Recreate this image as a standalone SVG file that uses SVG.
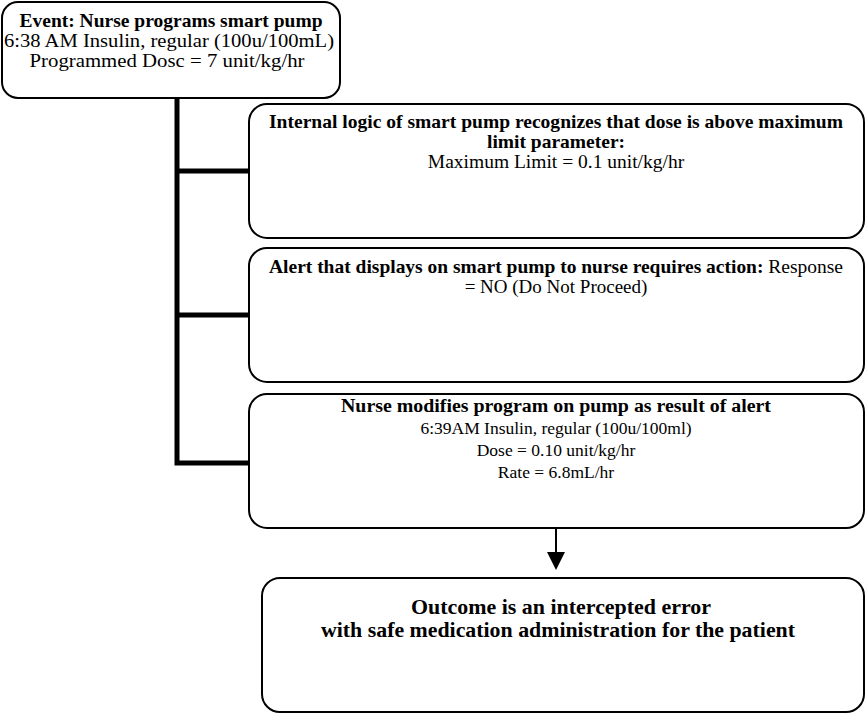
<svg xmlns="http://www.w3.org/2000/svg" width="867" height="714" viewBox="0 0 867 714">
<defs>
<style>
.box{fill:#fff;stroke:#000;stroke-width:2}
.t{font-family:"Liberation Serif","Times New Roman",serif;fill:#000;text-anchor:middle}
.b{font-weight:bold}
.conn{stroke:#000;stroke-width:5;fill:none}
</style>
</defs>
<rect width="867" height="714" fill="#fff"/>
<g id="connectors">
<path class="conn" d="M177,98 V463 H249"/>
<path class="conn" d="M177,171 H249"/>
<path class="conn" d="M177,315 H249"/>
<path d="M556,528 V553" stroke="#000" stroke-width="2"/>
<path d="M547,552 L565,552 L556,570 Z" fill="#000"/>
</g>
<g id="node-event">
<rect class="box" x="2" y="2" width="338" height="96" rx="16"/>
<text class="t b" x="171" y="27" font-size="19" textLength="303" lengthAdjust="spacingAndGlyphs">Event: Nurse programs smart pump</text>
<text class="t" x="169" y="47" font-size="19" textLength="330" lengthAdjust="spacingAndGlyphs">6:38 AM Insulin, regular (100u/100mL)</text>
<text class="t" x="167" y="67" font-size="19" textLength="275" lengthAdjust="spacingAndGlyphs">Programmed Dosc = 7 unit/kg/hr</text>
</g>
<g id="node-logic">
<rect class="box" x="249" y="104" width="615" height="134" rx="18"/>
<text class="t b" x="556" y="128" font-size="19.5" textLength="574" lengthAdjust="spacingAndGlyphs">Internal logic of smart pump recognizes that dose is above maximum</text>
<text class="t b" x="556" y="148" font-size="19.5">limit parameter:</text>
<text class="t" x="556" y="168" font-size="19.5">Maximum Limit = 0.1 unit/kg/hr</text>
</g>
<g id="node-alert">
<rect class="box" x="249" y="248" width="615" height="134" rx="18"/>
<text class="t" x="556" y="273" font-size="19.5" textLength="574" lengthAdjust="spacingAndGlyphs"><tspan class="b">Alert that displays on smart pump to nurse requires action:</tspan> Response</text>
<text class="t" x="556" y="293" font-size="19">= NO (Do Not Proceed)</text>
</g>
<g id="node-modify">
<rect class="box" x="249" y="394" width="615" height="134" rx="18"/>
<text class="t b" x="556" y="412" font-size="19.8" textLength="430" lengthAdjust="spacingAndGlyphs">Nurse modifies program on pump as result of alert</text>
<text class="t" x="556" y="434" font-size="17.5">6:39AM Insulin, regular (100u/100ml)</text>
<text class="t" x="556" y="456" font-size="17.5">Dose = 0.10 unit/kg/hr</text>
<text class="t" x="556" y="478" font-size="17.5">Rate = 6.8mL/hr</text>
</g>
<g id="node-outcome">
<rect class="box" x="262" y="578" width="602" height="134" rx="18"/>
<text class="t b" x="561" y="614" font-size="22" textLength="300" lengthAdjust="spacingAndGlyphs">Outcome is an intercepted error</text>
<text class="t b" x="558" y="637" font-size="22" textLength="474" lengthAdjust="spacingAndGlyphs">with safe medication administration for the patient</text>
</g>
</svg>
